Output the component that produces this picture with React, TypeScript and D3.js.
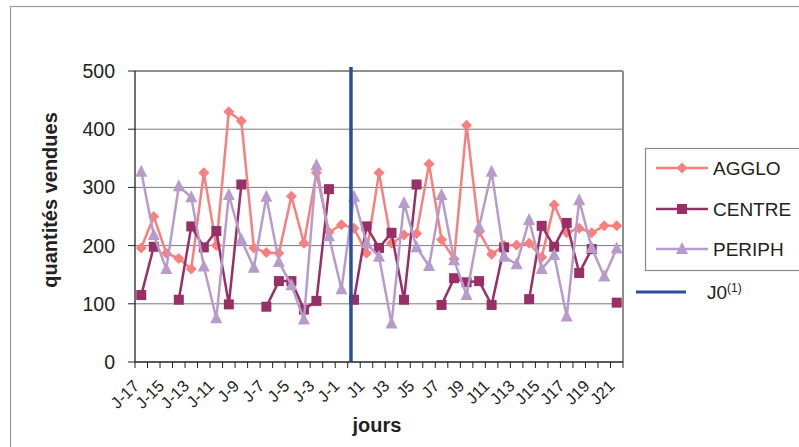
import React from "react";
import * as d3 from "d3";

const categories = [
  "J-17","J-16","J-15","J-14","J-13","J-12","J-11","J-10","J-9","J-8","J-7","J-6","J-5","J-4","J-3","J-2","J-1",
  "J0","J1","J2","J3","J4","J5","J6","J7","J8","J9","J10","J11","J12","J13","J14","J15","J16","J17","J18","J19","J20","J21",
];

const agglo: (number | null)[] = [
  196, 250, 187, 178, 160, 325, 200, 430, 414, 196, 188, 187, 285, 204, 325, 223, 236,
  230, 187, 325, 204, 218, 221, 340, 210, 177, 407, 224, 185, 200, 201, 204, 180, 270, 222, 230, 222, 234, 234,
];

const centre: (number | null)[] = [
  115, 198, null, 107, 233, 197, 225, 99, 305, null, 95, 139, 139, 90, 105, 297, null,
  107, 233, 196, 222, 107, 305, null, 98, 144, 137, 139, 98, 197, null, 108, 234, 198, 239, 153, 194, null, 102,
];

const periph: (number | null)[] = [
  327, 218, 160, 302, 283, 164, 75, 287, 210, 162, 284, 172, 132, 73, 338, 216, 125,
  284, 204, 181, 66, 273, 197, 165, 287, 175, 115, 232, 327, 181, 168, 244, 160, 184, 78, 278, 196, 147, 195,
];

const yTicks = [0, 100, 200, 300, 400, 500];
const seriesNames = ["AGGLO", "CENTRE", "PERIPH"];
const eventCategory = "J0";
const eventLabel = "J0";

const COLORS: Record<string, string> = {
  AGGLO: "#f7807e",
  CENTRE: "#982f66",
  PERIPH: "#b79ccb",
};

const W = 799;
const H = 447;
const M = { left: 135, right: 623, top: 71, bottom: 362 };
const FONT = "'Liberation Sans', Arial, sans-serif";

function Marker({ name, x, y }: { name: string; x: number; y: number }) {
  const c = COLORS[name];
  if (name === "AGGLO") {
    const s = 5.5;
    return <path d={`M${x},${y - s}L${x + s},${y}L${x},${y + s}L${x - s},${y}Z`} fill={c} />;
  }
  if (name === "CENTRE") {
    const s = 5;
    return <rect x={x - s} y={y - s} width={2 * s} height={2 * s} fill={c} />;
  }
  const s = 6;
  return <path d={`M${x},${y - s - 1}L${x + s},${y + s - 1}L${x - s},${y + s - 1}Z`} fill={c} />;
}

export default function App() {
  const x = d3.scaleBand<string>().domain(categories).range([M.left, M.right]);
  const y = d3.scaleLinear().domain([0, 500]).range([M.bottom, M.top]);
  const cx = (c: string) => (x(c) ?? 0) + x.bandwidth() / 2;

  const data: Record<string, (number | null)[]> = { AGGLO: agglo, CENTRE: centre, PERIPH: periph };
  const line = d3
    .line<[string, number | null]>()
    .defined((d) => d[1] !== null)
    .x((d) => cx(d[0]))
    .y((d) => y(d[1] as number));

  const boundaries = d3.range(categories.length + 1).map((i) => M.left + i * x.step());

  const legendY = [168, 209, 249];

  return (
    <svg
      width={W}
      height={H}
      style={{ position: "absolute", left: 0, top: 0, background: "#fff" }}
      fontFamily={FONT}
    >
      {/* outer chart border */}
      <rect x={10.5} y={6.5} width={W + 20} height={H + 20} fill="#fff" stroke="#9a9a9a" strokeWidth={1.2} />

      {/* gridlines */}
      {yTicks.slice(1, -1).map((t) => (
        <line key={t} x1={M.left} x2={M.right} y1={y(t)} y2={y(t)} stroke="#7a7a7a" strokeWidth={1} />
      ))}
      {/* plot border */}
      <line x1={M.left} x2={M.right} y1={y(500)} y2={y(500)} stroke="#8f8f8f" strokeWidth={2} />
      <line x1={M.right} x2={M.right} y1={M.top} y2={M.bottom} stroke="#8f8f8f" strokeWidth={2} />

      {/* axes */}
      <line x1={M.left} x2={M.left} y1={M.top} y2={M.bottom} stroke="#222" strokeWidth={1.3} />
      <line x1={M.left} x2={M.right} y1={M.bottom} y2={M.bottom} stroke="#222" strokeWidth={1.3} />
      {yTicks.map((t) => (
        <g key={t}>
          <line x1={M.left - 7} x2={M.left} y1={y(t)} y2={y(t)} stroke="#222" strokeWidth={1} />
          <text x={M.left - 20} y={y(t)} dy="0.36em" textAnchor="end" fontSize={19.5} fill="#222">
            {t}
          </text>
        </g>
      ))}
      {boundaries.map((b, i) => (
        <line key={i} x1={b} x2={b} y1={M.bottom} y2={M.bottom + 6} stroke="#222" strokeWidth={1} />
      ))}
      {categories.map((c, i) =>
        i % 2 === 0 ? (
          <text
            key={c}
            transform={`translate(${cx(c) - 1},${M.bottom + 25}) rotate(-45)`}
            textAnchor="end"
            fontSize={16.5}
            fill="#222"
          >
            {c}
          </text>
        ) : null
      )}

      {/* axis titles */}
      <text x={377} y={432} textAnchor="middle" fontSize={20} fontWeight="bold" fill="#222">
        jours
      </text>
      <text
        transform={`translate(57,200) rotate(-90)`}
        textAnchor="middle"
        fontSize={20}
        fontWeight="bold"
        fill="#222"
      >
        quantités vendues
      </text>

      {/* series */}
      {seriesNames.map((name) => {
        const pts = categories.map((c, i) => [c, data[name][i]] as [string, number | null]);
        return (
          <g key={name}>
            <path d={line(pts) ?? ""} fill="none" stroke={COLORS[name]} strokeWidth={2.5} strokeLinejoin="round" />
            {pts
              .filter((p) => p[1] !== null)
              .map((p) => (
                <Marker key={p[0]} name={name} x={cx(p[0])} y={y(p[1] as number)} />
              ))}
          </g>
        );
      })}

      {/* event line J0 */}
      <line
        x1={cx(eventCategory) - 3}
        x2={cx(eventCategory) - 3}
        y1={M.top - 4}
        y2={M.bottom}
        stroke="#2b4ea2"
        strokeWidth={3.5}
      />

      {/* legend */}
      <rect x={645.5} y={148.5} width={170} height={122} fill="#fff" stroke="#8a8a8a" strokeWidth={1.2} />
      {seriesNames.map((name, i) => (
        <g key={name}>
          <line x1={656} x2={708} y1={legendY[i]} y2={legendY[i]} stroke={COLORS[name]} strokeWidth={2.5} />
          <Marker name={name} x={682} y={legendY[i]} />
          <text x={713} y={legendY[i]} dy="0.36em" fontSize={19} fill="#222">
            {name}
          </text>
        </g>
      ))}
      <line x1={636} x2={686} y1={292} y2={292} stroke="#2b4ea2" strokeWidth={3} />
      <text x={707} y={292} dy="0.38em" fontSize={19} fill="#222">
        {eventLabel}
        <tspan fontSize={12} dy="-0.6em">(1)</tspan>
      </text>
    </svg>
  );
}
